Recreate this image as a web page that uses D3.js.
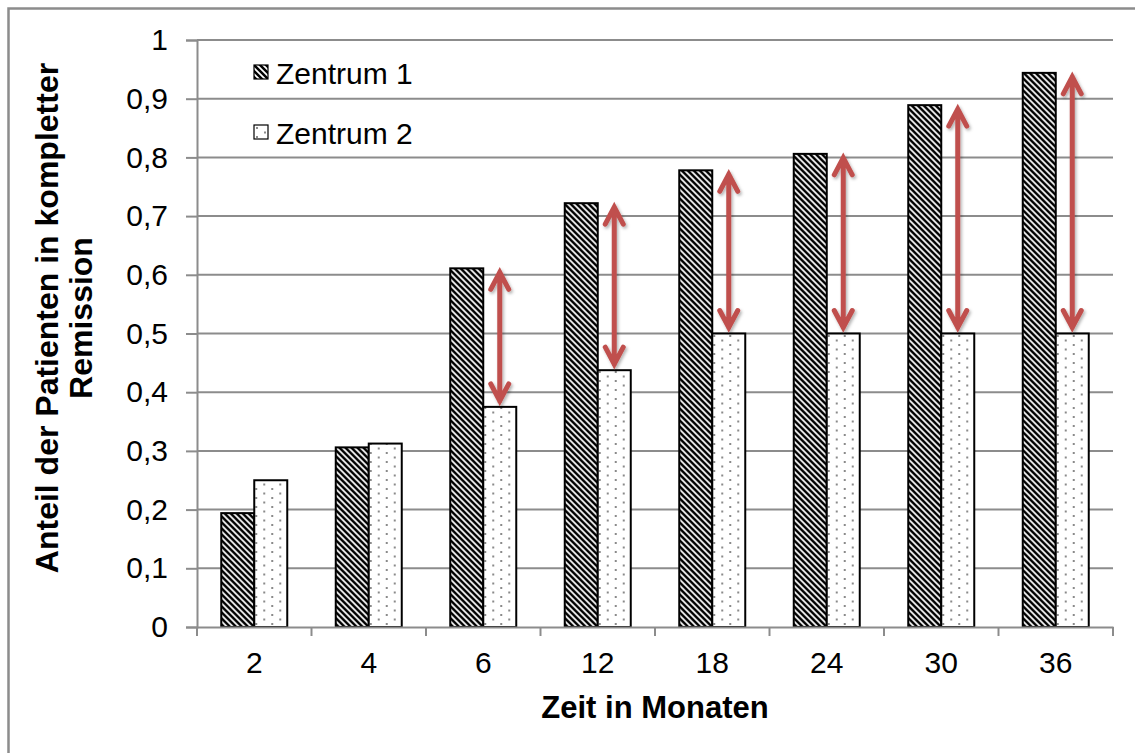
<!DOCTYPE html>
<html>
<head>
<meta charset="utf-8">
<title></title>
<script src="https://d3js.org/d3.v7.min.js"></script>
<style>
  body { margin: 0; background: #fff; }
  text { font-family: "Liberation Sans", Arial, sans-serif; fill: #000; }
</style>
</head>
<body>
<svg width="1135" height="753"></svg>
<script>
// data
var months = ["2", "4", "6", "12", "18", "24", "30", "36"];
var zentrum1 = [0.194, 0.306, 0.611, 0.722, 0.778, 0.806, 0.889, 0.944];
var zentrum2 = [0.25, 0.3125, 0.375, 0.4375, 0.5, 0.5, 0.5, 0.5];
var seriesNames = ["Zentrum 1", "Zentrum 2"];
var yTicks = [0, 0.1, 0.2, 0.3, 0.4, 0.5, 0.6, 0.7, 0.8, 0.9, 1];
// arrows drawn for these months
var arrowMonths = ["6", "12", "18", "24", "30", "36"];

var svg = d3.select("svg");
var gridCol = "#8c8c8c";
var fs = 30;

// outer frame
svg.append("rect").attr("x", 8.5).attr("y", 8.5).attr("width", 1160).attr("height", 780)
  .attr("fill", "none").attr("stroke", gridCol).attr("stroke-width", 2.5);

var defs = svg.append("defs");
var stripe = defs.append("pattern").attr("id", "stripe")
  .attr("patternUnits", "userSpaceOnUse").attr("width", 6).attr("height", 6);
stripe.append("rect").attr("width", 6).attr("height", 6).attr("fill", "#fff");
stripe.append("path").attr("d", "M-3,-3L9,9M-3,3L3,9M3,-3L9,3")
  .attr("stroke", "#000").attr("stroke-width", 2.5);

var dots = defs.append("pattern").attr("id", "dots")
  .attr("patternUnits", "userSpaceOnUse").attr("width", 16).attr("height", 9);
dots.append("rect").attr("width", 16).attr("height", 9).attr("fill", "#fff");
dots.append("rect").attr("x", 2).attr("y", 2).attr("width", 2).attr("height", 2).attr("fill", "#8a8a8a");
dots.append("rect").attr("x", 10).attr("y", 6.5).attr("width", 2).attr("height", 2).attr("fill", "#8a8a8a");

var shadow = defs.append("filter").attr("id", "shadow")
  .attr("x", "-50%").attr("y", "-10%").attr("width", "200%").attr("height", "120%");
shadow.append("feDropShadow").attr("dx", 1.5).attr("dy", 2).attr("stdDeviation", 1.5)
  .attr("flood-color", "#000").attr("flood-opacity", 0.3);

var fills = ["url(#stripe)", "url(#dots)"];

var pLeft = 197, pRight = 1113, pTop = 40, pBottom = 627;
var x0 = d3.scaleBand().domain(months).range([pLeft, pRight]);
var x1 = d3.scaleBand().domain(seriesNames).range([0, 66]);
var off = (x0.bandwidth() - 66) / 2;
var y = d3.scaleLinear().domain([0, 1]).range([pBottom, pTop]);

// gridlines
svg.append("g").selectAll("line").data(yTicks.slice(1)).join("line")
  .attr("x1", pLeft).attr("x2", pRight)
  .attr("y1", function(d) { return y(d); }).attr("y2", function(d) { return y(d); })
  .attr("stroke", gridCol).attr("stroke-width", 2);

// y axis
var yAxis = svg.append("g").attr("transform", "translate(" + pLeft + ",0)")
  .call(d3.axisLeft(y).tickValues(yTicks).tickSize(11).tickPadding(18)
    .tickFormat(function(d) { return d3.format("~g")(d).replace(".", ","); }));
yAxis.select(".domain").attr("stroke", gridCol).attr("stroke-width", 2);
yAxis.selectAll(".tick line").attr("stroke", gridCol).attr("stroke-width", 2);
yAxis.selectAll(".tick text").attr("font-size", fs).attr("font-family", null).attr("fill", "#000");

// bars
var rows = months.map(function(m, i) { return { m: m, v: [zentrum1[i], zentrum2[i]] }; });
var groups = svg.append("g").selectAll("g").data(rows).join("g")
  .attr("transform", function(d) { return "translate(" + (x0(d.m) + off) + ",0)"; });
groups.selectAll("rect").data(function(d) { return d.v; }).join("rect")
  .attr("x", function(d, j) { return x1(seriesNames[j]); })
  .attr("width", x1.bandwidth())
  .attr("y", function(d) { return y(d); })
  .attr("height", function(d) { return y(0) - y(d); })
  .attr("fill", function(d, j) { return fills[j]; })
  .attr("stroke", "#000").attr("stroke-width", 2);

// x axis
var xAxis = svg.append("g").attr("transform", "translate(0," + pBottom + ")")
  .call(d3.axisBottom(x0).tickSize(0).tickPadding(25));
xAxis.select(".domain").attr("stroke", gridCol).attr("stroke-width", 2);
xAxis.selectAll(".tick text").attr("font-size", fs).attr("font-family", null).attr("fill", "#000");
svg.append("g").selectAll("line").data(months.concat(["end"])).join("line")
  .attr("x1", function(d) { return d === "end" ? pRight : x0(d); })
  .attr("x2", function(d) { return d === "end" ? pRight : x0(d); })
  .attr("y1", pBottom).attr("y2", pBottom + 9)
  .attr("stroke", gridCol).attr("stroke-width", 2);

// arrows
var arrowCol = "#c0504d";
var arrows = svg.append("g").attr("filter", "url(#shadow)").selectAll("g")
  .data(arrowMonths.map(function(m) { var i = months.indexOf(m); return { m: m, a: zentrum1[i], b: zentrum2[i] }; }))
  .join("g");
arrows.append("path")
  .attr("d", function(d) {
    var cx = x0(d.m) + off + x1("Zentrum 2") + x1.bandwidth() / 2;
    var t = y(d.a) + 4, b = y(d.b) - 6;
    return "M" + cx + "," + t + "L" + cx + "," + b +
      "M" + (cx - 9) + "," + (t + 17) + "L" + cx + "," + t + "L" + (cx + 9) + "," + (t + 17) +
      "M" + (cx - 9) + "," + (b - 17) + "L" + cx + "," + b + "L" + (cx + 9) + "," + (b - 17);
  })
  .attr("fill", "none").attr("stroke", arrowCol).attr("stroke-width", 5)
  .attr("stroke-linejoin", "miter").attr("stroke-linecap", "round");

// legend
var legend = svg.append("g").selectAll("g").data(seriesNames).join("g")
  .attr("transform", function(d, i) { return "translate(254," + (65 + i * 60) + ")"; });
legend.append("rect").attr("width", 14).attr("height", 14)
  .attr("fill", function(d, i) { return fills[i]; })
  .attr("stroke", "#000").attr("stroke-width", 1.2);
legend.append("text").attr("x", 22).attr("y", 18.5).attr("font-size", fs)
  .text(function(d) { return d; });

// axis titles
svg.append("text").attr("x", (pLeft + pRight) / 2).attr("y", 718)
  .attr("text-anchor", "middle").attr("font-size", 31).attr("font-weight", "bold")
  .text("Zeit in Monaten");
var yt = svg.append("text").attr("transform", "translate(58,318) rotate(-90)")
  .attr("text-anchor", "middle").attr("font-size", 32).attr("font-weight", "bold");
yt.append("tspan").attr("x", 0).attr("y", 0).text("Anteil der Patienten in kompletter");
yt.append("tspan").attr("x", 0).attr("y", 34).text("Remission");
</script>
</body>
</html>
